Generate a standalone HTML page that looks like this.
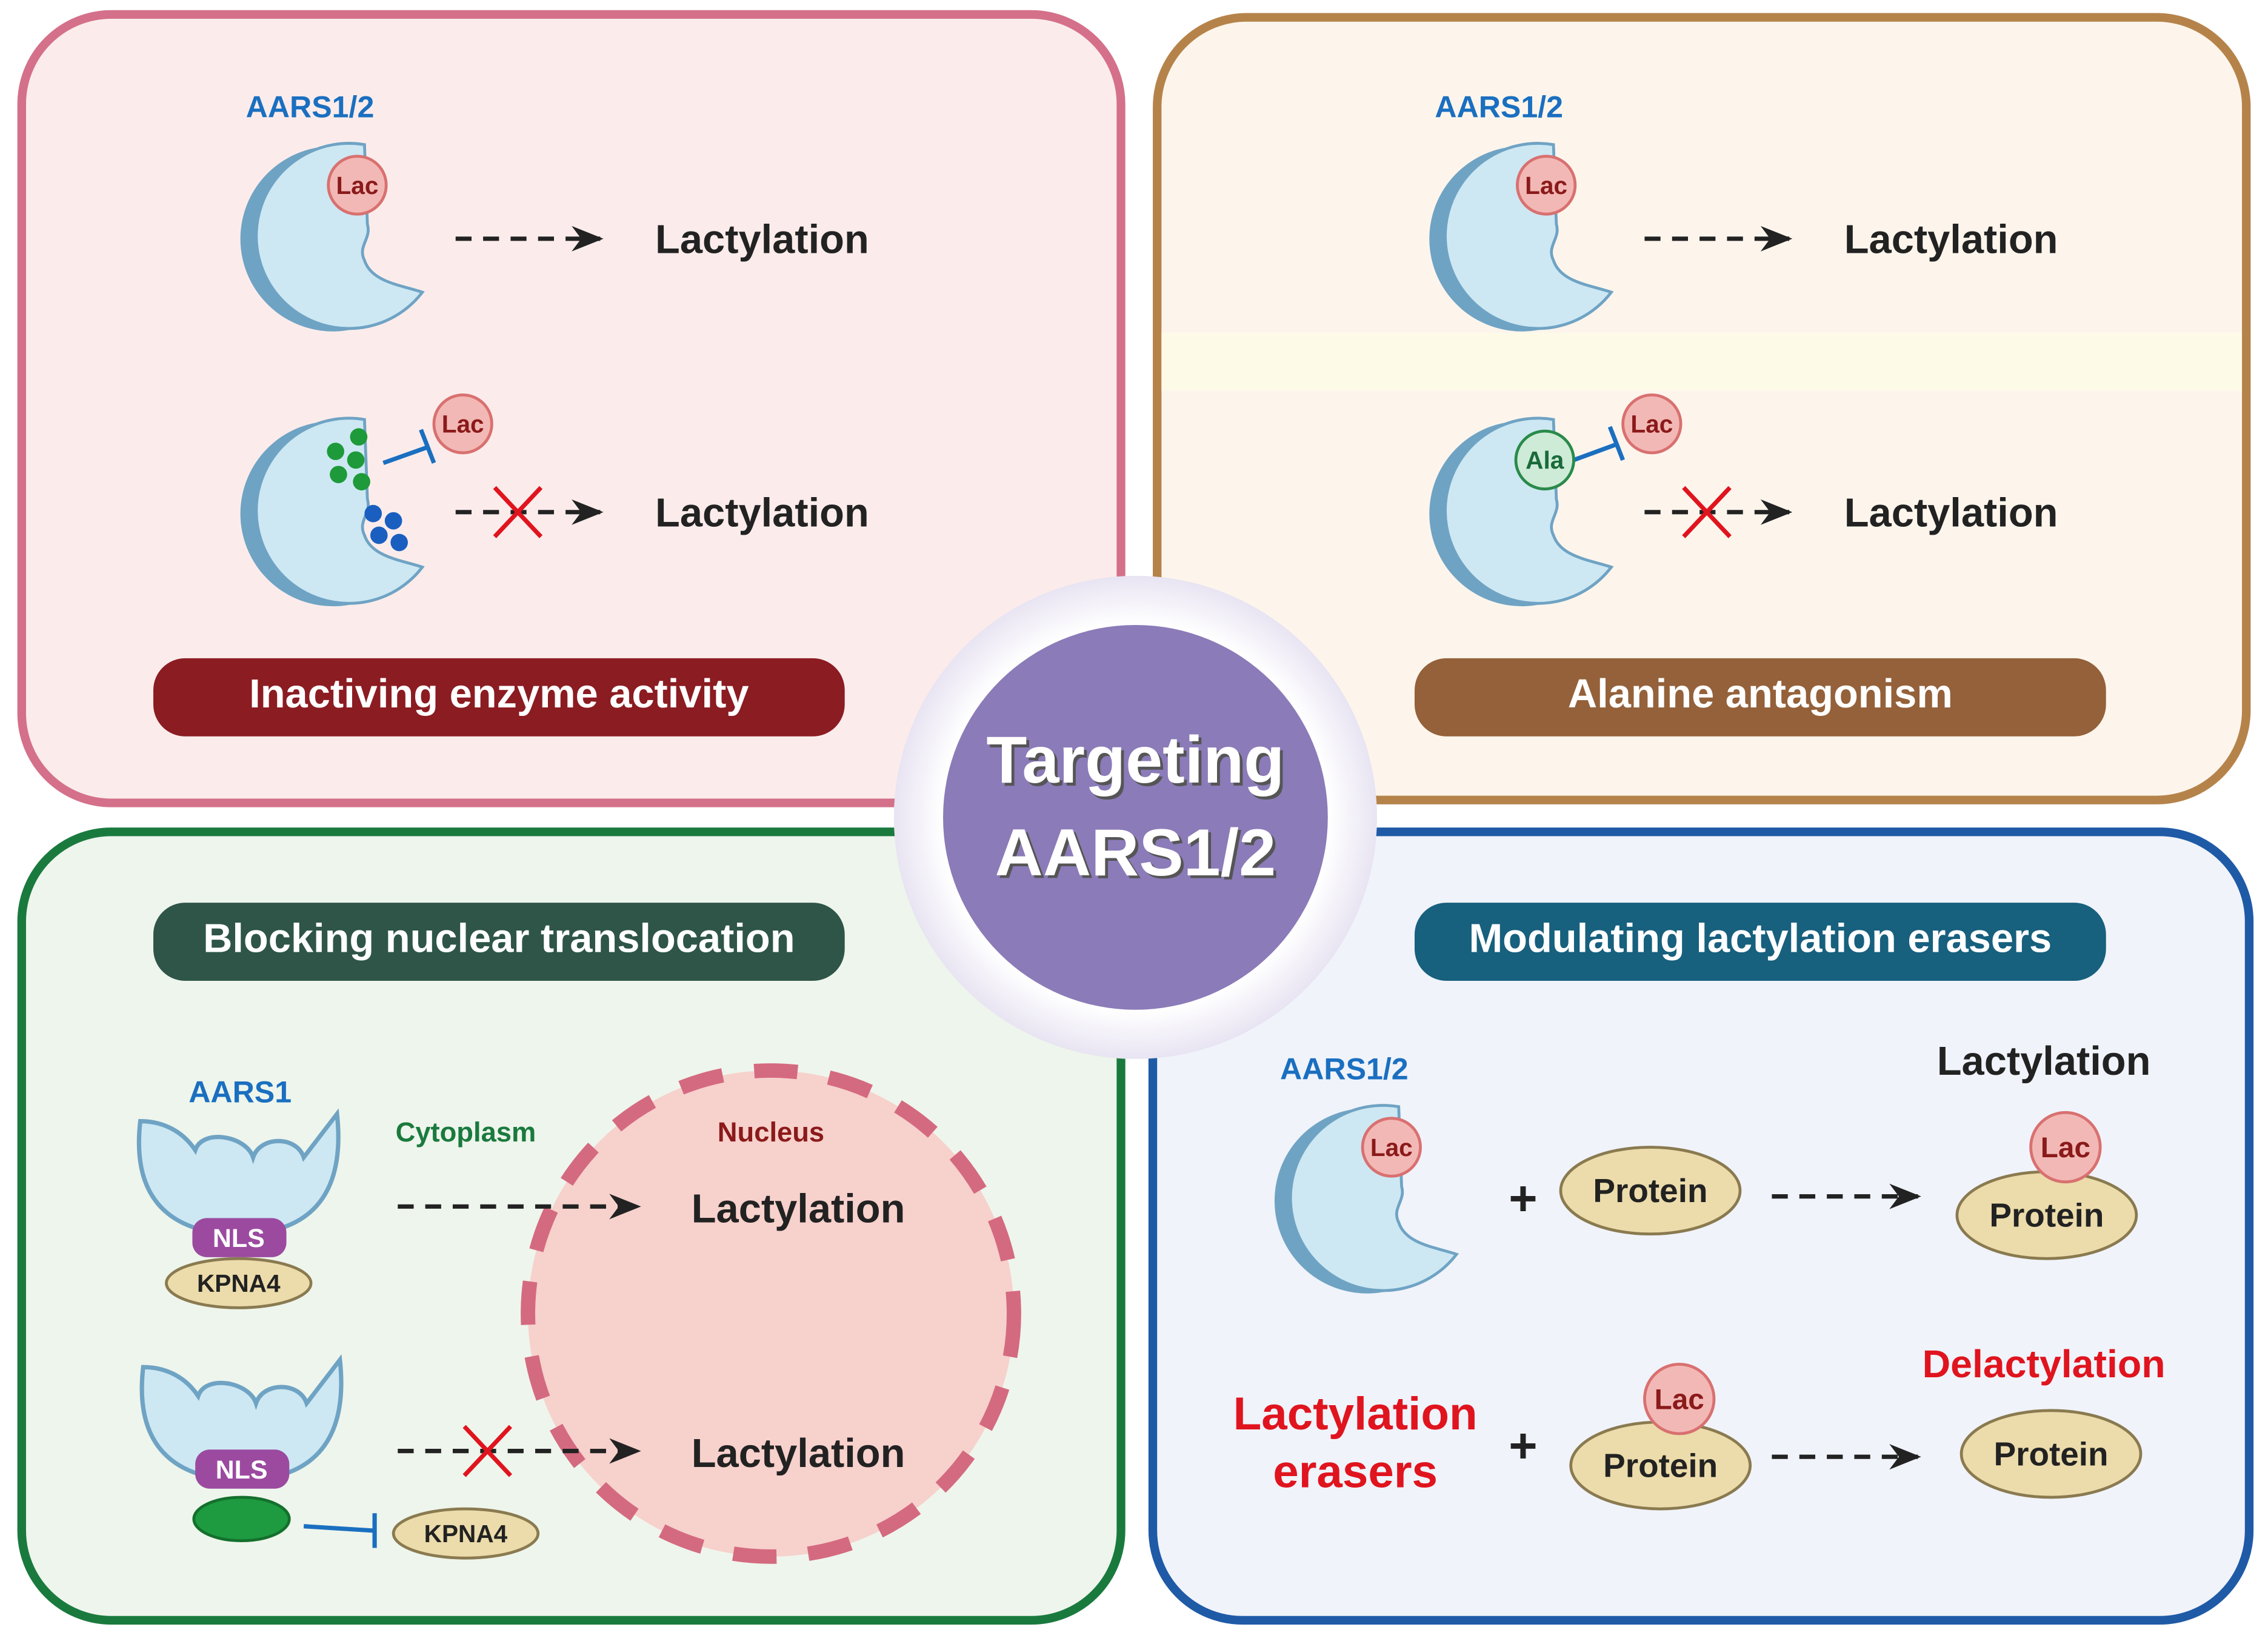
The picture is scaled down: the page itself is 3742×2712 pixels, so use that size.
<!DOCTYPE html>
<html><head><meta charset="utf-8"><style>
html,body{margin:0;padding:0;background:#fff}
svg{display:block}
text{font-family:"Liberation Sans",Arial,sans-serif;font-weight:bold}
</style></head><body>
<svg width="3742" height="2712" viewBox="0 0 1568 1136.4" xmlns="http://www.w3.org/2000/svg">
<defs>
<g id="enz">
<path d="M20,-60 A64 64 0 1 0 60,42 C45,37 25,35 20,20 C15,10 25,5 22,-5 Z" fill="#6fa3c4" transform="translate(-11,2)"/>
<path d="M20,-60 A64 64 0 1 0 60,42 C45,37 25,35 20,20 C15,10 25,5 22,-5 Z" fill="#cde8f3" stroke="#6fa3c4" stroke-width="2"/>
</g>
<g id="cup">
<path d="M-68,-30 C-75,30 -40,48 0,48 C40,48 75,30 68,-35 L45,-5 C40,-20 15,-20 10,-5 C5,-20 -25,-25 -30,-10 C-40,-25 -55,-30 -68,-30 Z" fill="#cde8f3" stroke="#6fa3c4" stroke-width="3"/>
</g>
<marker id="ah" viewBox="0 0 10 8" refX="9" refY="4" markerWidth="22" markerHeight="18" orient="auto" markerUnits="userSpaceOnUse"><path d="M0,0 L10,4 L0,8 L3,4 Z" fill="#222"/></marker>
<radialGradient id="halo"><stop offset="0.8" stop-color="#fff"/><stop offset="1" stop-color="#e8e4f2"/></radialGradient>
</defs>
<style>
.lac{fill:#f2b8b5;stroke:#d97070;stroke-width:2}
.lt{fill:#8b1a1a;font-size:17px;text-anchor:middle}
.big{font-size:28px;fill:#222}
.ban{fill:#fff;font-size:28px;text-anchor:middle}
.dash{stroke:#222;stroke-width:3;stroke-dasharray:11 8;fill:none}
.blue{fill:#1a6fc0;font-size:21px}
.prot{fill:#ecdcab;stroke:#8a7a50;stroke-width:2}
</style>
<!-- panels -->
<rect x="15" y="10" width="760" height="545" rx="62" fill="#fbeceb" stroke="#d4708a" stroke-width="6"/>
<rect x="800" y="12" width="753" height="541" rx="62" fill="#fdf5ec" stroke="#b5834a" stroke-width="6"/>
<rect x="803" y="230" width="747" height="40" fill="#fdfbe8"/>
<rect x="15" y="575" width="760" height="545" rx="62" fill="#eef5ec" stroke="#1a7a3e" stroke-width="6"/>
<rect x="797" y="575" width="758" height="545" rx="62" fill="#f0f3fa" stroke="#1f5aa6" stroke-width="6"/>

<!-- TL -->
<text x="170" y="81" class="blue">AARS1/2</text>
<use href="#enz" x="232" y="160"/>
<circle cx="247" cy="128" r="20" class="lac"/><text x="247" y="134" class="lt">Lac</text>
<line x1="315" y1="165" x2="415" y2="165" class="dash" marker-end="url(#ah)"/>
<text x="453" y="175" class="big">Lactylation</text>
<use href="#enz" x="232" y="350"/>
<g fill="#1e9a3a"><circle cx="232" cy="312" r="6"/><circle cx="248" cy="302" r="6"/><circle cx="246" cy="318" r="6"/><circle cx="234" cy="328" r="6"/><circle cx="250" cy="333" r="6"/></g>
<g fill="#1a5fc0"><circle cx="258" cy="355" r="6"/><circle cx="272" cy="360" r="6"/><circle cx="262" cy="370" r="6"/><circle cx="276" cy="375" r="6"/></g>
<line x1="265" y1="320" x2="296" y2="309" stroke="#1a6fc0" stroke-width="3"/><line x1="291" y1="297" x2="300" y2="320" stroke="#1a6fc0" stroke-width="3"/>
<circle cx="320" cy="293" r="20" class="lac"/><text x="320" y="299" class="lt">Lac</text>
<line x1="315" y1="354" x2="415" y2="354" class="dash" marker-end="url(#ah)"/>
<path d="M342,337 L374,371 M374,337 L342,371" stroke="#e0141e" stroke-width="3"/>
<text x="453" y="364" class="big">Lactylation</text>
<rect x="106" y="455" width="478" height="54" rx="22" fill="#8b1c22"/>
<text x="345" y="489" class="ban">Inactiving enzyme activity</text>

<!-- TR -->
<text x="992" y="81" class="blue">AARS1/2</text>
<use href="#enz" x="1054" y="160"/>
<circle cx="1069" cy="128" r="20" class="lac"/><text x="1069" y="134" class="lt">Lac</text>
<line x1="1137" y1="165" x2="1237" y2="165" class="dash" marker-end="url(#ah)"/>
<text x="1275" y="175" class="big">Lactylation</text>
<use href="#enz" x="1054" y="350"/>
<line x1="1088" y1="318" x2="1118" y2="307" stroke="#1a6fc0" stroke-width="3"/><line x1="1113" y1="295" x2="1122" y2="318" stroke="#1a6fc0" stroke-width="3"/>
<circle cx="1068" cy="318" r="20" fill="#cdebd6" stroke="#2a8a4a" stroke-width="2"/><text x="1068" y="324" class="lt" style="fill:#1a6a3a">Ala</text>
<circle cx="1142" cy="293" r="20" class="lac"/><text x="1142" y="299" class="lt">Lac</text>
<line x1="1137" y1="354" x2="1237" y2="354" class="dash" marker-end="url(#ah)"/>
<path d="M1164,337 L1196,371 M1196,337 L1164,371" stroke="#e0141e" stroke-width="3"/>
<text x="1275" y="364" class="big">Lactylation</text>
<rect x="978" y="455" width="478" height="54" rx="22" fill="#94613a"/>
<text x="1217" y="489" class="ban">Alanine antagonism</text>

<!-- BL -->
<rect x="106" y="624" width="478" height="54" rx="22" fill="#2e5548"/>
<text x="345" y="658" class="ban">Blocking nuclear translocation</text>
<circle cx="533" cy="908" r="168" fill="#f7d1cc" stroke="#d46a80" stroke-width="10" stroke-dasharray="30 22"/>
<text x="166" y="762" class="blue" style="text-anchor:middle">AARS1</text>
<text x="322" y="789" style="fill:#1a7a3e;font-size:19px;text-anchor:middle">Cytoplasm</text>
<text x="533" y="789" style="fill:#8b1a1a;font-size:19px;text-anchor:middle">Nucleus</text>
<use href="#cup" x="165" y="805"/>
<rect x="133" y="842" width="65" height="27" rx="10" fill="#9b4aa0"/><text x="165" y="862" style="fill:#fff;font-size:18px;text-anchor:middle">NLS</text>
<ellipse cx="165" cy="887" rx="50" ry="17" class="prot"/><text x="165" y="893" style="font-size:17px;text-anchor:middle;fill:#222">KPNA4</text>
<line x1="275" y1="834" x2="441" y2="834" class="dash" marker-end="url(#ah)"/>
<text x="478" y="845" class="big">Lactylation</text>
<use href="#cup" x="167" y="975"/>
<rect x="135" y="1002" width="65" height="27" rx="10" fill="#9b4aa0"/><text x="167" y="1022" style="fill:#fff;font-size:18px;text-anchor:middle">NLS</text>
<ellipse cx="167" cy="1050" rx="33" ry="15" fill="#1e9a40" stroke="#14702c" stroke-width="2"/>
<line x1="210" y1="1055" x2="258" y2="1058" stroke="#1a6fc0" stroke-width="3"/><line x1="259" y1="1046" x2="259" y2="1070" stroke="#1a6fc0" stroke-width="3"/>
<ellipse cx="322" cy="1060" rx="50" ry="17" class="prot"/><text x="322" y="1066" style="font-size:17px;text-anchor:middle;fill:#222">KPNA4</text>
<line x1="275" y1="1003" x2="441" y2="1003" class="dash" marker-end="url(#ah)"/>
<path d="M321,986 L353,1020 M353,986 L321,1020" stroke="#e0141e" stroke-width="3"/>
<text x="478" y="1014" class="big">Lactylation</text>

<!-- BR -->
<rect x="978" y="624" width="478" height="54" rx="22" fill="#17607e"/>
<text x="1217" y="658" class="ban">Modulating lactylation erasers</text>
<text x="885" y="746" class="blue">AARS1/2</text>
<use href="#enz" x="947" y="825"/>
<circle cx="962" cy="793" r="20" class="lac"/><text x="962" y="799" class="lt">Lac</text>
<text x="1053" y="840" style="font-size:34px;text-anchor:middle;fill:#222">+</text>
<ellipse cx="1141" cy="823" rx="62" ry="30" class="prot"/><text x="1141" y="831" style="font-size:23px;text-anchor:middle;fill:#222">Protein</text>
<line x1="1225" y1="827" x2="1326" y2="827" class="dash" marker-end="url(#ah)"/>
<text x="1413" y="743" class="big" style="text-anchor:middle">Lactylation</text>
<ellipse cx="1415" cy="840" rx="62" ry="30" class="prot"/><text x="1415" y="848" style="font-size:23px;text-anchor:middle;fill:#222">Protein</text>
<circle cx="1428" cy="793" r="24" class="lac"/><text x="1428" y="800" class="lt" style="font-size:20px">Lac</text>
<text x="1413" y="952" style="fill:#e0141e;font-size:27px;text-anchor:middle">Delactylation</text>
<text x="937" y="988" style="fill:#e0141e;font-size:32px;text-anchor:middle">Lactylation</text>
<text x="937" y="1028" style="fill:#e0141e;font-size:32px;text-anchor:middle">erasers</text>
<text x="1053" y="1011" style="font-size:34px;text-anchor:middle;fill:#222">+</text>
<ellipse cx="1148" cy="1013" rx="62" ry="30" class="prot"/><text x="1148" y="1021" style="font-size:23px;text-anchor:middle;fill:#222">Protein</text>
<circle cx="1161" cy="967" r="24" class="lac"/><text x="1161" y="974" class="lt" style="font-size:20px">Lac</text>
<line x1="1225" y1="1007" x2="1326" y2="1007" class="dash" marker-end="url(#ah)"/>
<ellipse cx="1418" cy="1005" rx="62" ry="30" class="prot"/><text x="1418" y="1013" style="font-size:23px;text-anchor:middle;fill:#222">Protein</text>

<!-- center -->
<circle cx="785" cy="565" r="167" fill="url(#halo)"/>
<circle cx="785" cy="565" r="133" fill="#8b7bb8"/>
<text x="787" y="543" style="font-size:46px;fill:#555;text-anchor:middle">Targeting</text>
<text x="785" y="541" style="font-size:46px;fill:#fff;text-anchor:middle">Targeting</text>
<text x="787" y="607" style="font-size:46px;fill:#555;text-anchor:middle">AARS1/2</text>
<text x="785" y="605" style="font-size:46px;fill:#fff;text-anchor:middle">AARS1/2</text>
</svg>
</body></html>
